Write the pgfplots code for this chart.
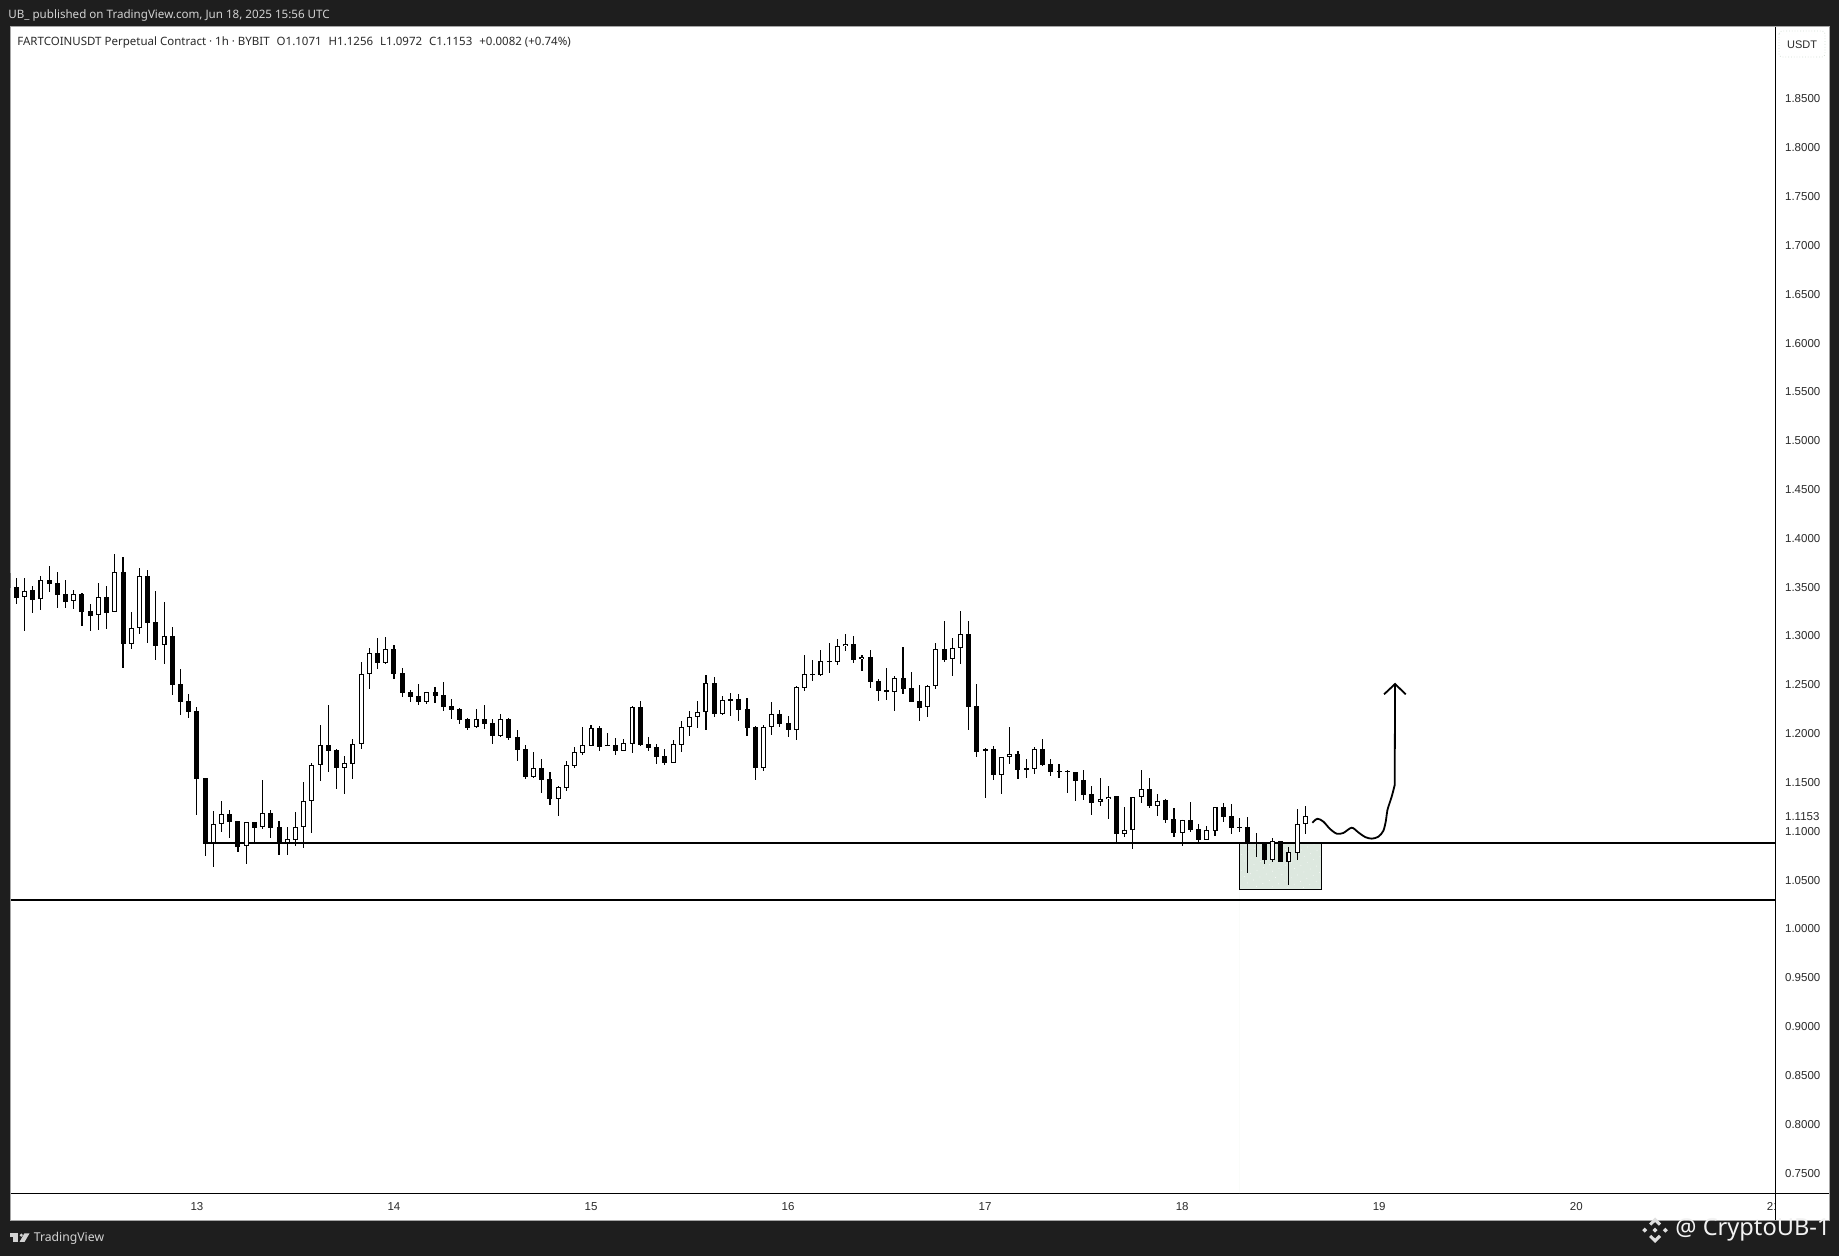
\documentclass[border=0pt]{standalone}
\usepackage{fontspec}
\setmainfont{Liberation Sans}
\newfontfamily\tvf{Noto Sans}
\usepackage{pgfplots}
\usepackage{pgfplotstable}
\usetikzlibrary{patterns.meta}
\pgfplotsset{compat=1.18}
\definecolor{bgdark}{HTML}{1E1E1E}
\definecolor{zone}{HTML}{DDE8DF}
\definecolor{lbl}{HTML}{2A2A2A}
\pgfplotstableread{
x h t b l
1 1.3594 1.3464 1.3396 1.3055
3 1.3611 1.3570 1.3376 1.3270
7 1.3468 1.3427 1.3355 1.3280
10 1.3540 1.3396 1.3212 1.3065
12 1.3837 1.3652 1.3243 1.3243
14 1.3243 1.3079 1.2922 1.2870
15 1.3693 1.3611 1.3079 1.3024
18 1.3345 1.2997 1.2905 1.2717
24 1.1205 1.1071 1.0877 1.0638
25 1.1307 1.1174 1.1071 1.0993
28 1.1092 1.1092 1.0846 1.0668
30 1.1522 1.1184 1.1041 1.1027
33 1.1041 1.0918 1.0884 1.0761
34 1.1194 1.1041 1.0914 1.0853
35 1.1501 1.1307 1.1041 1.0832
36 1.1696 1.1676 1.1307 1.0986
37 1.2085 1.1880 1.1676 1.1519
40 1.1768 1.1696 1.1652 1.1385
41 1.1942 1.1891 1.1693 1.1539
42 1.2730 1.2608 1.1891 1.1846
43 1.2874 1.2823 1.2608 1.2461
45 1.2987 1.2864 1.2727 1.2717
50 1.2427 1.2423 1.2328 1.2307
56 1.2249 1.2147 1.2065 1.2061
59 1.2198 1.2147 1.1979 1.1969
63 1.1809 1.1645 1.1559 1.1549
66 1.1460 1.1450 1.1334 1.1160
67 1.1717 1.1676 1.1447 1.1416
68 1.1860 1.1809 1.1672 1.1652
69 1.2068 1.1880 1.1805 1.1785
70 1.2085 1.2055 1.1877 1.1877
74 1.1942 1.1901 1.1826 1.1826
75 1.2280 1.2270 1.1897 1.1805
80 1.1932 1.1891 1.1703 1.1703
81 1.2126 1.2065 1.1887 1.1816
82 1.2229 1.2167 1.2065 1.1979
83 1.2331 1.2218 1.2167 1.2061
84 1.2597 1.2515 1.2218 1.2041
86 1.2382 1.2341 1.2198 1.2195
91 1.2085 1.2065 1.1652 1.1621
92 1.2321 1.2198 1.2065 1.1990
95 1.2485 1.2475 1.2041 1.1938
96 1.2802 1.2608 1.2471 1.2440
98 1.2854 1.2741 1.2604 1.2594
100 1.2966 1.2894 1.2737 1.2707
101 1.3017 1.2915 1.2894 1.2850
103 1.2802 1.2782 1.2761 1.2645
107 1.2587 1.2567 1.2423 1.2235
111 1.2495 1.2485 1.2270 1.2174
112 1.2925 1.2864 1.2485 1.2454
114 1.2976 1.2874 1.2761 1.2594
115 1.3253 1.3017 1.2874 1.2717
118 1.1850 1.1839 1.1819 1.1344
120 1.1758 1.1758 1.1580 1.1385
121 1.2065 1.1788 1.1758 1.1693
124 1.1860 1.1839 1.1641 1.1590
132 1.1542 1.1334 1.1297 1.1262
133 1.1460 1.1355 1.1334 1.1129
135 1.1245 1.1017 1.0976 1.0945
136 1.1348 1.1348 1.1017 1.0822
137 1.1624 1.1430 1.1348 1.1293
139 1.1378 1.1314 1.1262 1.1160
142 1.1119 1.1112 1.0986 1.0853
145 1.1051 1.1010 1.0914 1.0914
146 1.1245 1.1245 1.1006 1.0955
153 1.0928 1.0897 1.0709 1.0689
155 1.0836 1.0785 1.0689 1.0453
156 1.1225 1.1071 1.0781 1.0709
157 1.1256 1.1153 1.1071 1.0972
}\upcandles
\pgfplotstableread{
x h t b l
-1 1.3642 1.3642 1.3488 1.3488
0 1.3594 1.3499 1.3393 1.3331
2 1.3509 1.3468 1.3372 1.3239
4 1.3714 1.3570 1.3536 1.3451
5 1.3652 1.3540 1.3424 1.3290
6 1.3570 1.3427 1.3352 1.3290
8 1.3437 1.3427 1.3249 1.3106
9 1.3325 1.3253 1.3208 1.3055
11 1.3509 1.3396 1.3239 1.3075
13 1.3806 1.3652 1.2922 1.2676
16 1.3673 1.3611 1.3137 1.2932
17 1.3458 1.3140 1.2901 1.2758
19 1.3089 1.2997 1.2502 1.2399
20 1.2659 1.2505 1.2328 1.2194
21 1.2403 1.2331 1.2225 1.2164
22 1.2270 1.2229 1.1539 1.1170
23 1.1542 1.1542 1.0873 1.0750
26 1.1215 1.1174 1.1099 1.0935
27 1.1102 1.1102 1.0843 1.0791
29 1.1092 1.1092 1.1037 1.0884
31 1.1215 1.1184 1.1037 1.0935
32 1.1102 1.1041 1.0884 1.0761
38 1.2290 1.1880 1.1826 1.1611
39 1.1839 1.1829 1.1652 1.1437
44 1.2976 1.2823 1.2727 1.2666
46 1.2905 1.2864 1.2614 1.2563
47 1.2669 1.2618 1.2420 1.2379
48 1.2444 1.2423 1.2379 1.2328
49 1.2505 1.2382 1.2328 1.2297
51 1.2478 1.2423 1.2389 1.2317
52 1.2526 1.2393 1.2276 1.2235
53 1.2352 1.2280 1.2246 1.2154
54 1.2259 1.2249 1.2143 1.2102
55 1.2157 1.2147 1.2061 1.2041
57 1.2290 1.2147 1.2102 1.2051
58 1.2147 1.2106 1.1979 1.1897
60 1.2157 1.2147 1.1959 1.1938
61 1.2034 1.1962 1.1836 1.1723
62 1.1880 1.1839 1.1559 1.1539
64 1.1737 1.1645 1.1529 1.1396
65 1.1604 1.1532 1.1334 1.1273
71 1.2075 1.2055 1.1867 1.1826
72 1.2003 1.1884 1.1877 1.1877
73 1.1952 1.1880 1.1826 1.1785
76 1.2331 1.2270 1.1880 1.1877
77 1.1962 1.1891 1.1857 1.1826
78 1.1891 1.1860 1.1764 1.1693
79 1.1839 1.1768 1.1703 1.1682
85 1.2577 1.2515 1.2205 1.2174
87 1.2413 1.2352 1.2338 1.2184
88 1.2403 1.2352 1.2246 1.2133
89 1.2362 1.2249 1.2061 1.1979
90 1.2075 1.2065 1.1652 1.1529
93 1.2239 1.2198 1.2102 1.2072
94 1.2178 1.2106 1.2041 1.1969
97 1.2751 1.2608 1.2604 1.2543
99 1.2925 1.2741 1.2737 1.2625
102 1.2997 1.2915 1.2758 1.2727
104 1.2854 1.2782 1.2533 1.2471
105 1.2556 1.2536 1.2440 1.2338
106 1.2669 1.2444 1.2423 1.2348
108 1.2884 1.2567 1.2461 1.2410
109 1.2628 1.2464 1.2328 1.2328
110 1.2495 1.2331 1.2266 1.2133
113 1.3150 1.2864 1.2758 1.2737
116 1.3150 1.3017 1.2276 1.2041
117 1.2505 1.2280 1.1816 1.1764
119 1.1870 1.1839 1.1580 1.1529
122 1.1819 1.1788 1.1631 1.1539
123 1.1737 1.1645 1.1631 1.1549
125 1.1942 1.1839 1.1682 1.1672
126 1.1737 1.1686 1.1611 1.1570
127 1.1686 1.1614 1.1611 1.1549
128 1.1624 1.1618 1.1611 1.1396
129 1.1604 1.1604 1.1519 1.1314
130 1.1624 1.1522 1.1375 1.1324
131 1.1460 1.1378 1.1293 1.1170
134 1.1358 1.1358 1.0976 1.0887
138 1.1542 1.1430 1.1262 1.1242
140 1.1334 1.1317 1.1119 1.1088
141 1.1235 1.1122 1.0986 1.0945
143 1.1297 1.1112 1.1017 1.0996
144 1.1071 1.1020 1.0914 1.0883
147 1.1286 1.1245 1.1150 1.1099
148 1.1276 1.1153 1.1037 1.0976
149 1.1133 1.1041 1.1034 1.0996
150 1.1143 1.1041 1.0884 1.0576
151 1.0979 1.0890 1.0870 1.0740
152 1.0877 1.0873 1.0709 1.0668
154 1.0897 1.0897 1.0689 1.0689
}\downcandles
\pgfplotsset{wick/.style={draw=none,no markers,forget plot,error bars/.cd,y dir=minus,y explicit,error mark=none,error bar style={solid,draw=black,line width=0.55pt}},
  body/.style n args={2}{draw=none,no markers,forget plot,error bars/.cd,y dir=minus,y explicit,error mark=none,error bar style={solid,draw=#1,line width=#2}}}
\begin{document}
\begin{tikzpicture}
\useasboundingbox (0,0) rectangle (919.5pt,628pt);
\fill[bgdark] (0,0) rectangle (919.5pt,628pt);
\begin{scope}[shift={(0pt,628pt)},x=0.5pt,y=-0.5pt]
\fill[white] (10.5,27) rectangle (1829,1220.5);
\draw[gray!70,line width=0.5pt] (10.5,27) rectangle (1829,1220.5);
\end{scope}
\begin{axis}[
  at={(5.25pt,31.25pt)},anchor=south west,
  scale only axis,width=882.5pt,height=583.25pt,
  xmin=-0.706,xmax=214.27,ymin=0.7291,ymax=1.9237,
  axis x line=bottom,axis y line=right,
  axis line style={-,black,line width=0.5pt},
  major tick length=0pt,
  xtick={22,46,70,94,118,142,166,190,214},
  xticklabels={13,14,15,16,17,18,19,20,21},
  ytick={0.75,0.80,0.85,0.90,0.95,1.00,1.05,1.10,1.15,1.20,1.25,1.30,1.35,1.40,1.45,1.50,1.55,1.60,1.65,1.70,1.75,1.80,1.85},
  extra y ticks={1.1153},
  /pgf/number format/assume math mode=true,
  /pgf/number format/fixed,
  /pgf/number format/fixed zerofill,
  /pgf/number format/precision=4,
  every y tick label/.append style={anchor=west,inner sep=0pt,xshift=4.6pt,font=\fontsize{5.75}{6}\selectfont,text=lbl},
  every x tick label/.append style={inner sep=0pt,yshift=-4.3pt,font=\fontsize{5.75}{6}\selectfont,text=lbl},
  clip=true,
]
% zone
\addplot[draw=none,fill=zone,forget plot] coordinates {(148.96,1.0878)(159.0,1.0878)(159.0,1.0406)(148.96,1.0406)} \closedcycle;
\addplot[draw=black,line width=0.5pt,pattern={Dots[radius=0.22pt,distance=3.5pt,angle=25]},pattern color=white,forget plot] coordinates {(148.96,1.0878)(159.0,1.0878)(159.0,1.0406)(148.96,1.0406)(148.96,1.0878)};
% levels
\addplot[black,line width=1.1pt,forget plot] coordinates {(23,1.0878)(214.27,1.0878)};
\addplot[black,line width=1.1pt,forget plot] coordinates {(-0.706,1.0298)(214.27,1.0298)};
% path
\addplot[black,line width=0.9pt,smooth,tension=0.5,forget plot] coordinates {(157.86,1.1088)(158.47,1.1129)(159.20,1.1099)(160.01,1.1024)(160.82,1.0976)(161.63,1.0983)(162.65,1.1037)(163.46,1.0989)(164.27,1.0942)(165.09,1.0925)(165.90,1.0945)(166.51,1.1006)(166.83,1.1116)(167.0,1.1218)(167.52,1.1355)(167.89,1.1474)};
\addplot[black,line width=0.9pt,forget plot] coordinates {(167.89,1.1474)(167.93,1.2509)};
\addplot[black,line width=0.9pt,forget plot] coordinates {(166.59,1.2403)(167.93,1.2509)(169.23,1.2403)};
% wicks
\addplot[wick] table[x=x,y=h,y error expr={\thisrow{h}-\thisrow{l}}] {\downcandles};
\addplot[wick] table[x=x,y=h,y error expr={\thisrow{h}-\thisrow{l}}] {\upcandles};
% bodies
\addplot[body={black}{2.5pt}] table[x=x,y=t,y error expr={\thisrow{t}-\thisrow{b}}] {\downcandles};
\addplot[body={black}{2.5pt}] table[x=x,y=t,y error expr={\thisrow{t}-\thisrow{b}}] {\upcandles};
\addplot[body={white}{1.4pt}] table[x=x,y expr={\thisrow{t}-0.001},y error expr={max(\thisrow{t}-\thisrow{b}-0.002,0)}] {\upcandles};
\end{axis}
\begin{scope}[shift={(0pt,628pt)},x=0.5pt,y=-0.5pt]
% right edge of time scale
\fill[white] (1776,1194.2) rectangle (1828.5,1220);
\draw[black,line width=0.5pt] (1775.4,1190) -- (1775.4,1220.2);
\draw[black,line width=0.5pt] (1770,1193.5) -- (1828.6,1193.5);
% USDT
\draw[zone!90!gray,line width=0.4pt,densely dotted,rounded corners=1.5pt] (1779,31) rectangle (1825,57);
\node[text=lbl,inner sep=0pt,font=\fontsize{5.5}{6}\selectfont] at (1802,44.3) {USDT};
% header
\node[anchor=west,inner sep=0pt,font=\tvf\fontsize{5.8}{6}\selectfont,text=gray!35] at (8,16) {UB\_ published on TradingView.com, Jun 18, 2025 15:56 UTC};
\node[anchor=west,inner sep=0pt,text=lbl,font=\tvf\fontsize{5.75}{6}\selectfont] at (17,42.7) {FARTCOINUSDT Perpetual Contract · 1h · BYBIT\hspace{3.5pt}O1.1071\hspace{3.5pt}H1.1256\hspace{3.5pt}L1.0972\hspace{3.5pt}C1.1153\hspace{3.5pt}+0.0082 (+0.74\%)};
% TradingView logo
\fill[gray!35] (10,1233.5) rectangle (18,1236.7);
\fill[gray!35] (13.2,1236.7) rectangle (18,1242);
\fill[gray!35] (21.3,1235.2) circle (1.7);
\fill[gray!35] (24.3,1233.5) -- (29.5,1233.5) -- (24.5,1242) -- (19.5,1242) -- cycle;
\node[anchor=west,inner sep=0pt,text=gray!35,font=\tvf\fontsize{6.1}{7}\selectfont] at (33.5,1238) {TradingView};
% watermark
\begin{scope}[gray!25]
\fill (1655,1217.5) -- (1661,1223.5) -- (1658.8,1225.7) -- (1655,1222) -- (1651.2,1225.7) -- (1649,1223.5) -- cycle;
\fill (1655,1243) -- (1661,1237) -- (1658.8,1234.8) -- (1655,1238.5) -- (1651.2,1234.8) -- (1649,1237) -- cycle;
\fill (1655,1227.7) -- (1657.5,1230.2) -- (1655,1232.7) -- (1652.5,1230.2) -- cycle;
\fill (1644.7,1227.7) -- (1647.2,1230.2) -- (1644.7,1232.7) -- (1642.2,1230.2) -- cycle;
\fill (1665.3,1227.7) -- (1667.8,1230.2) -- (1665.3,1232.7) -- (1662.8,1230.2) -- cycle;
\end{scope}
\node[anchor=west,inner sep=0pt,text=gray!10,font=\tvf\fontsize{11.8}{12}\selectfont] at (1675,1230) {@ CryptoUB-1};
\end{scope}
\end{tikzpicture}
\end{document}
